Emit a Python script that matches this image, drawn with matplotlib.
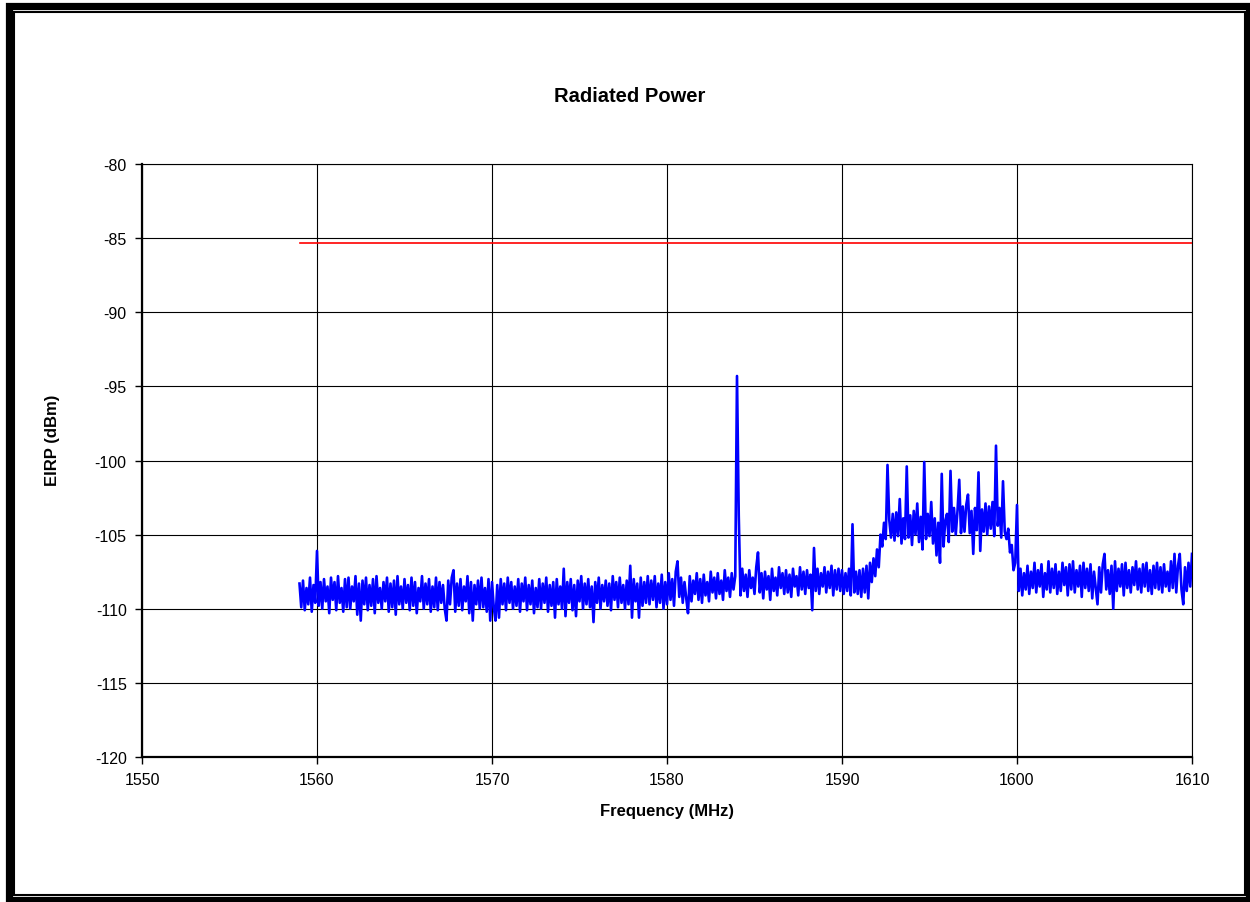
import numpy as np
import matplotlib
matplotlib.use("Agg")
import matplotlib.pyplot as plt
from matplotlib.patches import Rectangle

plt.rcParams['font.family'] = ['Liberation Sans', 'DejaVu Sans']
plt.rcParams['axes.unicode_minus'] = False

# spectrum sweep: 1559.0 .. 1610.0 MHz in 0.1 MHz steps (one row = 1 MHz)
freq_start = 1559.0
freq_step = 0.1

eirp_1559_1570 = [
    -108.3, -109.9, -108.1, -110.1, -108.6, -109.7, -107.9, -110.2, -108.4, -109.6,
    -106.1, -109.8, -108.2, -110.0, -108.0, -109.5, -108.5, -110.3, -107.9, -109.4,
    -108.2, -110.1, -107.8, -109.6, -108.6, -110.2, -108.0, -109.9, -107.9, -110.0,
    -108.5, -109.5, -107.8, -110.4, -108.3, -110.8, -108.1, -109.7, -107.9, -110.1,
    -108.4, -109.8, -108.0, -110.3, -107.8, -109.6, -108.6, -110.0, -108.2, -109.5,
    -107.9, -110.2, -108.3, -109.9, -108.1, -110.4, -107.8, -109.7, -108.5, -110.0,
    -108.0, -109.6, -108.4, -110.1, -107.9, -109.8, -108.2, -110.3, -108.6, -109.5,
    -107.8, -110.0, -108.3, -109.7, -108.0, -110.2, -108.5, -109.9, -107.9, -110.1,
    -108.2, -109.6, -108.4, -110.0, -110.8, -108.1, -109.7, -107.9, -107.4, -110.2,
    -108.3, -109.8, -108.0, -110.1, -108.5, -109.5, -107.8, -110.3, -108.2, -110.8,
    -108.4, -109.7, -108.1, -110.0, -107.9, -109.9, -108.6, -110.2, -108.0, -110.8,
]

eirp_1570_1580 = [
    -108.2, -109.9, -110.8, -108.4, -110.6, -108.0, -109.7, -108.3, -110.1, -107.9,
    -109.6, -108.2, -110.0, -108.5, -109.8, -108.0, -110.2, -108.3, -109.5, -107.9,
    -110.1, -108.4, -109.7, -108.1, -110.3, -108.6, -109.9, -108.0, -110.0, -108.3,
    -109.6, -107.9, -110.2, -108.4, -109.8, -108.2, -110.6, -108.0, -109.7, -108.5,
    -110.0, -107.3, -110.5, -108.2, -109.6, -108.0, -110.1, -108.4, -110.5, -108.1,
    -109.5, -107.8, -110.0, -108.3, -109.7, -108.0, -109.9, -108.5, -110.9, -108.2,
    -109.6, -107.9, -110.0, -108.4, -109.5, -108.1, -109.8, -108.3, -110.1, -107.8,
    -109.4, -108.2, -109.9, -107.9, -109.6, -108.4, -110.0, -108.1, -109.7, -107.1,
    -110.6, -108.0, -109.5, -108.3, -110.6, -107.9, -109.8, -108.2, -109.6, -107.8,
    -109.7, -108.1, -109.4, -107.8, -109.9, -108.3, -109.6, -107.7, -110.0, -108.2,
]

eirp_1580_1590 = [
    -109.7, -107.6, -109.4, -108.0, -109.8, -107.5, -106.8, -109.2, -107.9, -109.6,
    -108.2, -109.3, -110.3, -107.8, -109.5, -108.1, -109.0, -107.6, -109.4, -108.0,
    -109.6, -107.7, -109.1, -108.2, -109.5, -107.5, -108.9, -107.9, -109.3, -107.6,
    -109.0, -108.1, -109.4, -107.4, -108.8, -107.9, -109.2, -107.6, -108.7, -107.8,
    -94.3, -103.7, -109.1, -107.3, -108.8, -107.7, -109.2, -107.4, -108.6, -107.9,
    -109.0, -107.2, -106.2, -108.9, -107.6, -109.3, -107.5, -108.7, -107.8, -109.4,
    -107.3, -108.8, -107.9, -109.1, -107.2, -108.6, -107.6, -109.0, -107.4, -108.9,
    -107.7, -109.2, -107.3, -108.5, -107.8, -109.1, -107.2, -108.7, -107.5, -109.0,
    -107.4, -108.6, -107.7, -110.1, -105.9, -108.8, -107.3, -109.0, -107.6, -108.5,
    -107.2, -108.9, -107.5, -108.6, -107.1, -109.1, -107.4, -108.7, -107.3, -108.8,
]

eirp_1590_1600 = [
    -107.4, -109.0, -107.6, -108.8, -107.3, -109.1, -104.3, -108.9, -107.5, -109.0,
    -107.4, -109.2, -107.3, -108.9, -107.1, -109.3, -106.9, -108.2, -106.6, -107.8,
    -106.0, -107.2, -105.0, -105.8, -104.2, -105.3, -100.3, -104.0, -105.2, -103.6,
    -105.4, -103.5, -105.1, -102.6, -105.6, -103.9, -105.3, -100.4, -105.2, -103.7,
    -105.7, -103.4, -105.0, -102.9, -105.5, -103.8, -106.0, -100.1, -105.3, -103.6,
    -105.1, -102.8, -105.6, -103.9, -106.4, -104.2, -106.9, -100.9, -105.8, -104.1,
    -103.6, -105.5, -100.7, -104.8, -103.2, -105.0, -103.4, -101.3, -104.9, -103.1,
    -104.8, -103.0, -102.3, -104.9, -103.4, -106.3, -103.2, -104.7, -100.8, -106.1,
    -103.3, -104.8, -102.9, -105.0, -103.1, -104.6, -102.8, -105.1, -99.0, -104.4,
    -103.2, -105.2, -101.4, -104.8, -105.3, -104.6, -106.2, -105.7, -107.4, -106.9,
]

eirp_1600_1610 = [
    -103.0, -108.8, -107.3, -109.1, -107.6, -108.7, -107.1, -109.0, -107.5, -108.6,
    -106.9, -108.9, -107.4, -108.5, -107.0, -109.2, -107.6, -108.7, -106.8, -108.9,
    -107.3, -108.6, -107.0, -109.0, -107.5, -108.8, -106.9, -108.4, -107.2, -109.1,
    -107.0, -108.7, -106.8, -108.9, -107.4, -108.5, -107.1, -109.2, -106.9, -108.6,
    -107.3, -108.8, -107.0, -109.3, -107.5, -108.6, -109.7, -107.2, -108.9, -107.0,
    -106.3, -108.7, -107.4, -109.0, -107.1, -110.0, -106.8, -108.8, -107.3, -108.5,
    -107.0, -109.1, -106.9, -108.6, -107.4, -108.9, -107.2, -108.4, -106.8, -108.7,
    -107.3, -108.9, -107.0, -108.5, -106.9, -108.8, -107.4, -109.0, -107.1, -108.6,
    -106.9, -108.7, -107.2, -108.9, -107.0, -108.5, -107.5, -108.8, -106.8, -108.6,
    -106.3, -108.9, -107.1, -106.3, -108.7, -109.7, -107.2, -108.8, -106.9, -108.5,
    -106.3,
]

# limit line
limit_freq = [1559.0, 1610.0]
limit_eirp = [-85.3, -85.3]

x_ticks = [1550, 1560, 1570, 1580, 1590, 1600, 1610]
y_ticks = [-120, -115, -110, -105, -100, -95, -90, -85, -80]

eirp = np.array(eirp_1559_1570 + eirp_1570_1580 + eirp_1580_1590
                + eirp_1590_1600 + eirp_1600_1610)
freq = freq_start + freq_step * np.arange(len(eirp))

W, H = 1250, 903
fig = plt.figure(figsize=(W / 100, H / 100), dpi=100)
fig.patch.set_facecolor('white')

# double frame round the chart area
fig.patches.append(Rectangle((8.5 / W, 1 - 900.5 / H), (1248.5 - 8.5) / W, (900.5 - 7) / H,
                             transform=fig.transFigure, fill=False, lw=5.2, ec='black'))
fig.patches.append(Rectangle((14 / W, 1 - 896 / H), (1245 - 14) / W, (896 - 12.5) / H,
                             transform=fig.transFigure, fill=False, lw=1.5, ec='black'))

ax = fig.add_axes([142 / W, 1 - 758 / H, 1050 / W, 593 / H])

ax.plot(freq, eirp, color='#0000ff', lw=1.9, zorder=3)
ax.plot(limit_freq, limit_eirp, color='#ff0000', lw=1.2, zorder=4)

ax.set_xlim(1550, 1610)
ax.set_ylim(-120, -80)
ax.set_xticks(x_ticks)
ax.set_yticks(y_ticks)
ax.grid(True, color='black', lw=0.8)
ax.set_axisbelow(True)

for side in ['left', 'bottom']:
    ax.spines[side].set_linewidth(1.6)
for side in ['top', 'right']:
    ax.spines[side].set_linewidth(0.8)
ax.tick_params(direction='out', length=5, width=1, labelsize=11.5, pad=6)

fig.text(630 / W, 1 - 97 / H, 'Radiated Power', fontsize=14.5, fontweight='bold',
         ha='center', va='center')
ax.set_xlabel('Frequency (MHz)', fontsize=12, fontweight='bold')
ax.set_ylabel('EIRP (dBm)', fontsize=12, fontweight='bold')
ax.xaxis.set_label_coords(0.5, -0.078)
ax.yaxis.set_label_coords(-0.078, 0.536)

fig.savefig('out.png', dpi=100, facecolor='white')
